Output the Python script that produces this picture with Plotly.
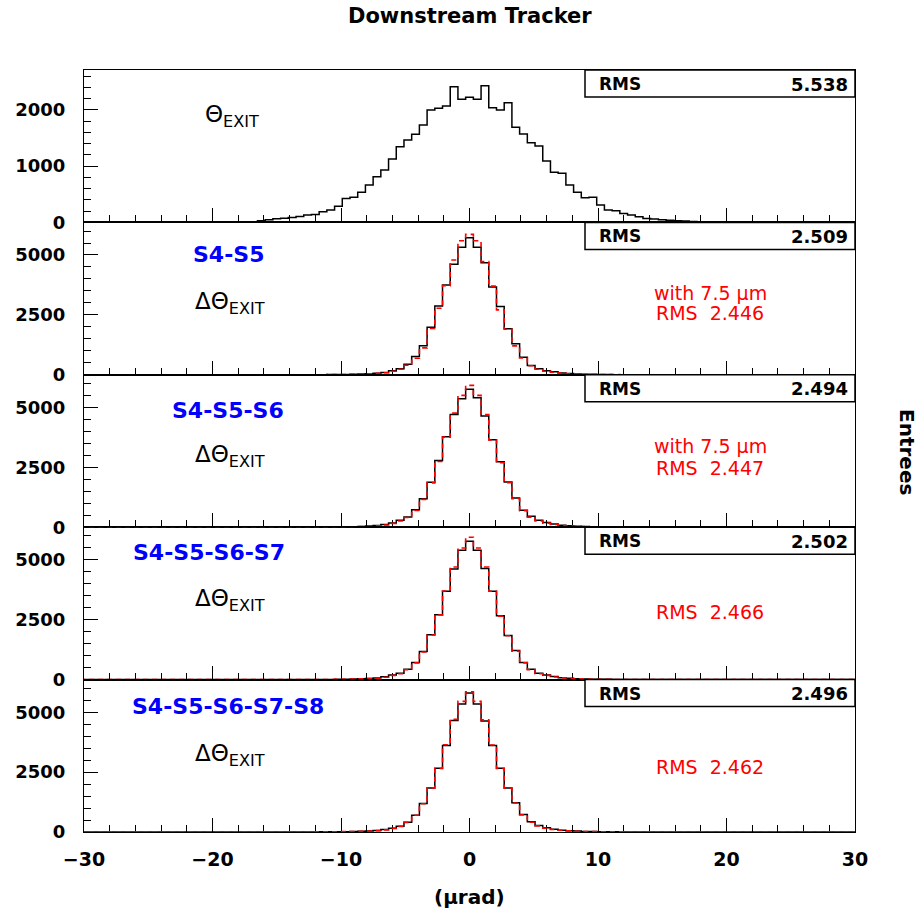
import numpy as np
import plotly.graph_objects as go
from plotly.subplots import make_subplots

# 101 bins of width 0.6 µrad, centred on multiples of 0.6
bin_centers = np.round(np.arange(-50, 51) * 0.6, 1)
BIN_HALF = 0.3

# Θ_EXIT, downstream tracker
theta_exit = [
    0, 0, 0, 0, 0, 0, 0, 0, 0, 0,
    0, 0, 0, 0, 0, 1, 1, 1, 2, 3,
    4, 6, 11, 28, 46, 64, 76, 89, 107, 130,
    142, 189, 219, 285, 427, 445, 534, 664, 811, 931,
    1126, 1346, 1464, 1566, 1731, 1998, 2028, 2069, 2413, 2189,
    2224, 2189, 2431, 2039, 1998, 2128, 1690, 1571, 1417, 1358,
    1091, 890, 872, 664, 534, 438, 445, 308, 219, 206,
    160, 130, 100, 71, 62, 46, 40, 28, 24, 16,
    13, 10, 8, 6, 4, 3, 2, 1, 1, 0,
    0, 0, 0, 0, 0, 0, 0, 0, 0, 0,
    0,
]

# ΔΘ_EXIT for each station combination (black) and with 7.5 µm resolution (red)
dtheta_s45 = [
    0, 0, 0, 0, 0, 0, 0, 0, 0, 0,
    0, 0, 0, 0, 0, 0, 0, 0, 1, 0,
    1, 0, 1, 1, 1, 2, 2, 3, 3, 4,
    5, 7, 9, 12, 17, 24, 34, 48, 68, 97,
    167, 250, 444, 764, 1208, 1986, 2875, 3750, 4611, 5319,
    5722, 5319, 4681, 3667, 2847, 1917, 1292, 736, 389, 250,
    167, 125, 80, 55, 38, 26, 18, 13, 10, 7,
    5, 4, 3, 2, 2, 1, 1, 1, 0, 1,
    0, 0, 1, 0, 0, 0, 0, 0, 0, 0,
    0, 0, 0, 0, 0, 0, 0, 0, 0, 0,
    0,
]
dtheta_s45_75um = [
    0, 0, 0, 0, 0, 0, 0, 0, 0, 0,
    0, 0, 0, 0, 0, 0, 0, 0, 0, 0,
    0, 1, 0, 1, 1, 1, 2, 2, 3, 3,
    4, 5, 7, 10, 14, 20, 28, 40, 58, 85,
    150, 230, 400, 690, 1125, 1930, 2778, 3720, 4792, 5597,
    5861, 5597, 4722, 3700, 2708, 1900, 1208, 700, 380, 230,
    150, 105, 68, 46, 32, 22, 15, 11, 8, 6,
    4, 3, 2, 2, 1, 1, 1, 0, 1, 0,
    0, 0, 0, 0, 0, 0, 0, 0, 0, 0,
    0, 0, 0, 0, 0, 0, 0, 0, 0, 0,
    0,
]
dtheta_s456 = [
    0, 0, 0, 0, 0, 0, 0, 0, 0, 0,
    0, 0, 0, 0, 0, 0, 0, 0, 0, 0,
    0, 1, 1, 1, 2, 2, 2, 3, 3, 4,
    5, 6, 8, 11, 16, 22, 32, 46, 66, 110,
    180, 285, 427, 732, 1192, 1874, 2782, 3774, 4707, 5364,
    5753, 5406, 4636, 3649, 2728, 1891, 1222, 703, 452, 285,
    195, 130, 85, 58, 40, 28, 19, 14, 10, 7,
    5, 4, 3, 2, 2, 1, 1, 1, 0, 1,
    0, 0, 0, 0, 0, 0, 0, 0, 0, 0,
    0, 0, 0, 0, 0, 0, 0, 0, 0, 0,
    0,
]
dtheta_s456_75um = [
    0, 0, 0, 0, 0, 0, 0, 0, 0, 0,
    0, 0, 0, 0, 0, 0, 0, 0, 0, 0,
    0, 0, 1, 1, 1, 1, 2, 2, 3, 3,
    4, 5, 7, 9, 13, 19, 27, 38, 55, 90,
    160, 260, 405, 700, 1160, 1850, 2740, 3760, 4760, 5500,
    5920, 5500, 4700, 3640, 2690, 1860, 1190, 690, 420, 260,
    170, 110, 72, 50, 34, 24, 16, 11, 8, 6,
    4, 3, 2, 2, 1, 1, 1, 0, 1, 0,
    0, 0, 0, 0, 0, 0, 0, 0, 0, 0,
    0, 0, 0, 0, 0, 0, 0, 0, 0, 0,
    0,
]
dtheta_s4567 = [
    0, 0, 0, 0, 0, 0, 0, 0, 0, 0,
    0, 0, 0, 0, 0, 0, 0, 0, 0, 0,
    1, 0, 1, 1, 2, 2, 2, 3, 3, 4,
    5, 7, 8, 11, 16, 23, 33, 47, 67, 115,
    197, 264, 431, 711, 1172, 1870, 2707, 3682, 4615, 5397,
    5774, 5397, 4636, 3682, 2665, 1841, 1213, 711, 431, 264,
    197, 125, 82, 56, 39, 27, 19, 13, 10, 7,
    5, 4, 3, 2, 2, 1, 1, 1, 1, 0,
    0, 0, 0, 0, 0, 0, 0, 0, 0, 0,
    0, 0, 0, 0, 0, 0, 0, 0, 0, 0,
    0,
]
dtheta_s4567_75um = [
    0, 0, 0, 0, 0, 0, 0, 0, 0, 0,
    0, 0, 0, 0, 0, 0, 0, 0, 0, 0,
    0, 1, 0, 1, 1, 2, 2, 2, 3, 3,
    4, 6, 7, 10, 14, 20, 29, 41, 58, 100,
    175, 245, 410, 700, 1150, 1860, 2700, 3700, 4700, 5490,
    5941, 5490, 4700, 3690, 2650, 1830, 1190, 700, 410, 245,
    175, 108, 72, 49, 34, 23, 16, 11, 8, 6,
    4, 3, 2, 2, 1, 1, 1, 1, 0, 0,
    0, 0, 0, 0, 0, 0, 0, 0, 0, 0,
    0, 0, 0, 0, 0, 0, 0, 0, 0, 0,
    0,
]
dtheta_s45678 = [
    0, 0, 0, 0, 0, 0, 0, 0, 0, 0,
    0, 0, 0, 0, 0, 0, 0, 0, 0, 0,
    0, 1, 1, 1, 1, 2, 2, 3, 3, 4,
    5, 6, 8, 11, 15, 22, 31, 45, 65, 100,
    159, 243, 410, 703, 1192, 1841, 2657, 3611, 4657, 5343,
    5803, 5343, 4636, 3611, 2657, 1841, 1222, 732, 427, 272,
    176, 118, 78, 54, 37, 26, 18, 13, 9, 7,
    5, 4, 3, 2, 2, 1, 1, 1, 0, 1,
    0, 0, 0, 0, 0, 0, 0, 0, 0, 0,
    0, 0, 0, 0, 0, 0, 0, 0, 0, 0,
    0,
]
dtheta_s45678_75um = [
    0, 0, 0, 0, 0, 0, 0, 0, 0, 0,
    0, 0, 0, 0, 0, 0, 0, 0, 0, 0,
    0, 0, 1, 1, 1, 1, 2, 2, 3, 3,
    4, 5, 7, 10, 14, 20, 28, 40, 58, 90,
    150, 235, 400, 700, 1180, 1840, 2650, 3640, 4700, 5452,
    5850, 5452, 4680, 3630, 2650, 1830, 1210, 715, 410, 255,
    160, 105, 70, 48, 33, 23, 16, 11, 8, 6,
    4, 3, 2, 2, 1, 1, 1, 0, 1, 0,
    0, 0, 0, 0, 0, 0, 0, 0, 0, 0,
    0, 0, 0, 0, 0, 0, 0, 0, 0, 0,
    0,
]

panel_labels = ["S4-S5", "S4-S5-S6", "S4-S5-S6-S7", "S4-S5-S6-S7-S8"]
rms_values = ["5.538", "2.509", "2.494", "2.502", "2.496"]
rms_75um = ["2.446", "2.447", "2.466", "2.462"]
with_75um = [True, True, False, False]

FONT = "DejaVu Sans"
W, H = 924, 915
L, R, T, B = 84, 69, 70, 83
PW, PH = W - L - R, H - T - B


def px(x):
    return (x - L) / PW


def py(y):
    return (H - B - y) / PH


def step_xy(values):
    xs = list(bin_centers - BIN_HALF) + [float(bin_centers[-1] + BIN_HALF)]
    ys = list(values) + [values[-1]]
    return xs, ys


fig = make_subplots(rows=5, cols=1, shared_xaxes=True, vertical_spacing=0)

x, y = step_xy(theta_exit)
fig.add_trace(go.Scatter(x=x, y=y, mode="lines", line=dict(shape="hv", color="black", width=1.5)), row=1, col=1)

pairs = [
    (dtheta_s45, dtheta_s45_75um),
    (dtheta_s456, dtheta_s456_75um),
    (dtheta_s4567, dtheta_s4567_75um),
    (dtheta_s45678, dtheta_s45678_75um),
]
for i, (black, red) in enumerate(pairs):
    r = i + 2
    x, y = step_xy(black)
    fig.add_trace(go.Scatter(x=x, y=y, mode="lines", line=dict(shape="hv", color="black", width=1.5)), row=r, col=1)
    x, y = step_xy(red)
    fig.add_trace(go.Scatter(x=x, y=y, mode="lines",
                             line=dict(shape="hv", color="red", width=1.6, dash="5px,4px")), row=r, col=1)

axis_common = dict(showline=True, mirror=True, linecolor="black", linewidth=1.2,
                   showgrid=False, zeroline=False, ticks="inside", tickcolor="black",
                   ticklen=14, tickwidth=1, layer="below traces")

for r in range(1, 6):
    fig.update_xaxes(range=[-30, 30], tick0=0, dtick=10,
                     minor=dict(ticks="inside", ticklen=7, dtick=2, tickcolor="black"),
                     showticklabels=(r == 5), row=r, col=1, **axis_common)
    if r == 1:
        fig.update_yaxes(range=[0, 2710], tick0=0, dtick=1000,
                         minor=dict(ticks="inside", ticklen=7, dtick=200, tickcolor="black"),
                         row=r, col=1, **axis_common)
    else:
        fig.update_yaxes(range=[0, 6360], tick0=0, dtick=2500,
                         minor=dict(ticks="inside", ticklen=7, dtick=500, tickcolor="black"),
                         row=r, col=1, **axis_common)

fig.update_xaxes(tickfont=dict(family=FONT, size=19, color="black", weight="bold"),
                 ticklabelstandoff=10, row=5, col=1)
fig.update_yaxes(tickfont=dict(family=FONT, size=18, color="black", weight="bold"),
                 ticklabelstandoff=14)

annotations = []
shapes = []


def text(x, y, s, size, color="black", xanchor="center", bold=False, angle=0):
    annotations.append(dict(x=px(x), y=py(y), xref="paper", yref="paper", text=s,
                            showarrow=False, xanchor=xanchor, yanchor="middle", textangle=angle,
                            font=dict(family=FONT, size=size, color=color,
                                      weight="bold" if bold else "normal")))


panel_tops = [T + i * PH / 5 for i in range(5)]

# RMS boxes
for top, val in zip(panel_tops, rms_values):
    shapes.append(dict(type="rect", xref="paper", yref="paper",
                       x0=px(585), x1=px(W - R), y0=py(top + 27), y1=py(top),
                       line=dict(color="black", width=1.5), fillcolor="white"))
    text(597, top + 14, "RMS", 17, xanchor="left", bold=True)
    text(850, top + 14, val, 18, xanchor="right", bold=True)

text(470, 16, "Downstream Tracker", 21, bold=True)
text(469, 897, "(μrad)", 20, bold=True)
text(907, 452, "Entrees", 20, angle=90, bold=True)

text(203, 116, "Θ<sub>EXIT</sub>", 23, xanchor="left")

blue_pos = [(228, 255), (228, 410), (209, 552), (228, 706)]
delta_y = [303, 456, 600, 755]
red_pos = [(293, 313), (446, 468), (None, 612), (None, 767)]
for i in range(4):
    bx, by = blue_pos[i]
    text(bx, by, panel_labels[i], 22, color="#0000ff", bold=True)
    text(193, delta_y[i], "ΔΘ<sub>EXIT</sub>", 23, xanchor="left")
    wy, ry = red_pos[i]
    if with_75um[i]:
        text(710, wy, "with 7.5 μm", 19, color="red")
    text(710, ry, "RMS  " + rms_75um[i], 19, color="red")

fig.update_layout(width=W, height=H, margin=dict(l=L, r=R, t=T, b=B),
                  plot_bgcolor="white", paper_bgcolor="white", showlegend=False,
                  annotations=annotations, shapes=shapes,
                  font=dict(family=FONT, color="black"))

fig.write_html("out.html")
